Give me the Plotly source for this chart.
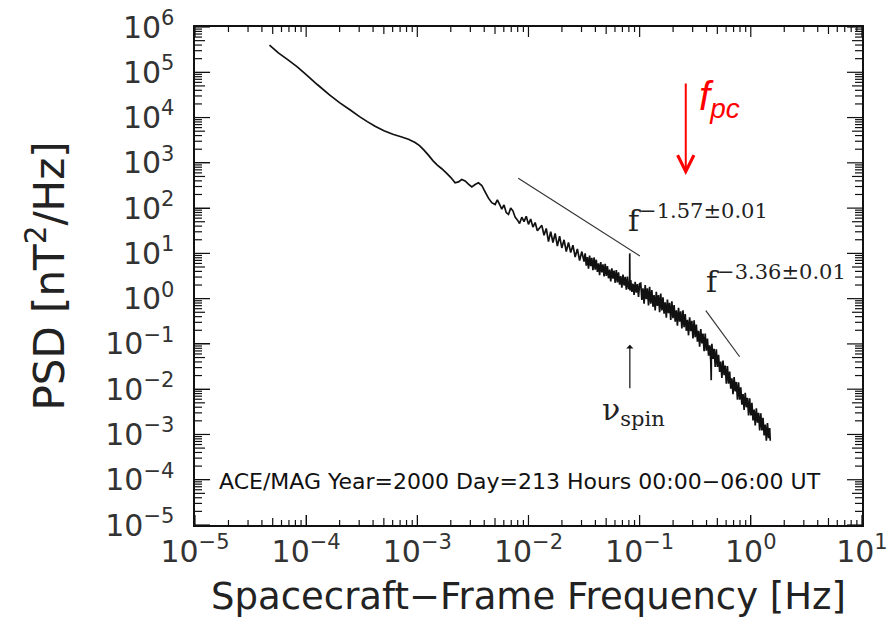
import plotly.graph_objects as go

# ---------------- data (log10 values) ----------------
# low-frequency, smooth part of the spectrum
lf_log_freq = [
    -4.33, -4.25, -4.16, -4.08, -4.00, -3.90, -3.79, -3.70, -3.60, -3.52,
    -3.45, -3.38, -3.30, -3.22, -3.14, -3.08, -3.02, -2.98, -2.94, -2.90,
    -2.86, -2.82, -2.78, -2.74, -2.70, -2.66, -2.63, -2.60, -2.57, -2.54,
    -2.51, -2.48, -2.45, -2.42, -2.39, -2.36, -2.33,
]
lf_log_psd = [
    5.60, 5.43, 5.27, 5.12, 4.95, 4.73, 4.50, 4.33, 4.16, 4.02,
    3.91, 3.81, 3.71, 3.63, 3.57, 3.52, 3.45, 3.38, 3.28, 3.17,
    3.05, 2.95, 2.87, 2.78, 2.68, 2.56, 2.58, 2.63, 2.60, 2.53,
    2.47, 2.52, 2.56, 2.50, 2.36, 2.22, 2.12,
]
# middle part, increasingly noisy (with the spin-tone spike near 0.08 Hz)
mf_log_freq = [
    -2.30, -2.28, -2.26, -2.24, -2.22, -2.20, -2.18, -2.16, -2.14, -2.12,
    -2.10, -2.08, -2.06, -2.04, -2.02, -2.00, -1.98, -1.96, -1.94, -1.92,
    -1.90, -1.88, -1.86, -1.84, -1.82, -1.80, -1.78, -1.76, -1.74, -1.72,
    -1.70, -1.68, -1.66, -1.64, -1.62, -1.60, -1.58, -1.56, -1.54, -1.52,
    -1.50,
    -1.49, -1.48, -1.47, -1.46, -1.45, -1.44, -1.43, -1.42, -1.41, -1.40,
    -1.39, -1.38, -1.37, -1.36, -1.35, -1.34, -1.33, -1.32, -1.31, -1.30,
    -1.29, -1.28, -1.27, -1.26, -1.25, -1.24, -1.23, -1.22, -1.21, -1.20,
    -1.19, -1.18, -1.17, -1.16, -1.15, -1.14, -1.13, -1.12, -1.11, -1.10,
    -1.09, -1.089, -1.087,
    -1.08, -1.07, -1.06, -1.05, -1.04, -1.03, -1.02, -1.01, -1.00,
]
mf_log_psd = [
    2.08, 2.18, 2.08, 1.98, 2.07, 1.90, 1.86, 2.00, 1.94, 1.80,
    1.74, 1.66, 1.80, 1.70, 1.82, 1.64, 1.76, 1.58, 1.68, 1.50,
    1.56, 1.62, 1.40, 1.55, 1.26, 1.48, 1.24, 1.44, 1.16, 1.38,
    1.12, 1.30, 1.04, 1.24, 1.02, 1.18, 0.92, 1.10, 0.84, 1.04,
    0.82,
    1.00, 0.73, 0.92, 0.66, 0.95, 0.72, 0.90, 0.63, 0.91, 0.64,
    0.86, 0.59, 0.78, 0.52, 0.81, 0.58, 0.76, 0.49, 0.77, 0.50,
    0.72, 0.45, 0.64, 0.38, 0.67, 0.44, 0.62, 0.35, 0.63, 0.36,
    0.58, 0.31, 0.50, 0.24, 0.53, 0.29, 0.48, 0.20, 0.49, 0.21,
    0.30, 1.00, 0.18,
    0.41, 0.15, 0.33, 0.08, 0.37, 0.13, 0.32, 0.04, 0.33,
]
# high-frequency part: dense, thick noise band
hf_log_freq = [
    -0.99, -0.98, -0.97, -0.96, -0.95, -0.94, -0.93, -0.92, -0.91, -0.90,
    -0.89, -0.88, -0.87, -0.86, -0.85, -0.84, -0.83, -0.82, -0.81, -0.80,
    -0.79, -0.78, -0.77, -0.76, -0.75, -0.74, -0.73, -0.72, -0.71, -0.70,
    -0.69, -0.68, -0.67, -0.66, -0.65, -0.64, -0.63, -0.62, -0.61, -0.60,
    -0.59, -0.58, -0.57, -0.56, -0.55, -0.54, -0.53, -0.52, -0.51, -0.50,
    -0.49, -0.48, -0.47, -0.46, -0.45, -0.44, -0.43, -0.42, -0.41, -0.40,
    -0.39, -0.38, -0.37, -0.36, -0.356, -0.354,
    -0.35, -0.34, -0.33, -0.32, -0.31, -0.30,
    -0.29, -0.28, -0.27, -0.26, -0.25, -0.24, -0.23, -0.22, -0.21, -0.20,
    -0.19, -0.18, -0.17, -0.16, -0.15, -0.14, -0.13, -0.12, -0.11, -0.10,
    -0.09, -0.08, -0.07, -0.06, -0.05, -0.04, -0.03, -0.02, -0.01, 0.00,
    0.01, 0.02, 0.03, 0.04, 0.05, 0.06, 0.07, 0.08, 0.09, 0.10,
    0.11, 0.12, 0.13, 0.14, 0.15, 0.16, 0.17, 0.175,
]
hf_log_psd = [
    0.34, -0.03, 0.23, -0.11, 0.30, -0.01, 0.23, -0.15, 0.26, -0.11,
    0.19, -0.18, 0.08, -0.26, 0.15, -0.16, 0.08, -0.30, 0.11, -0.26,
    0.03, -0.33, -0.08, -0.42, -0.02, -0.32, -0.09, -0.47, -0.06, -0.43,
    -0.14, -0.51, -0.26, -0.60, -0.20, -0.51, -0.28, -0.66, -0.26, -0.63,
    -0.34, -0.71, -0.47, -0.81, -0.41, -0.72, -0.49, -0.88, -0.48, -0.85,
    -0.57, -0.95, -0.71, -1.06, -0.67, -0.99, -0.77, -1.16, -0.77, -1.15,
    -0.88, -1.26, -1.03, -1.38, -1.80, -1.10,
    -1.00, -1.33, -1.11, -1.51, -1.12, -1.51,
    -1.24, -1.62, -1.39, -1.75, -1.37, -1.69, -1.48, -1.88, -1.49, -1.88,
    -1.61, -1.99, -1.76, -2.11, -1.73, -2.05, -1.84, -2.23, -1.85, -2.23,
    -1.96, -2.34, -2.11, -2.46, -2.08, -2.40, -2.19, -2.58, -2.20, -2.58,
    -2.30, -2.69, -2.45, -2.80, -2.42, -2.74, -2.52, -2.91, -2.53, -2.91,
    -2.63, -3.02, -2.78, -3.14, -2.75, -3.08, -2.86, -3.14,
]

# power-law fit segments (Hz, nT^2/Hz)
fit_inertial_freq = [0.0081, 0.1005]
fit_inertial_psd = [457.0, 8.8]
fit_dissip_freq = [0.394, 0.794]
fit_dissip_psd = [0.546, 0.052]

# axis decades
x_decades = [-5, -4, -3, -2, -1, 0, 1]
y_decades = [-5, -4, -3, -2, -1, 0, 1, 2, 3, 4, 5, 6]
minor_digits = [2, 3, 4, 5, 6, 7, 8, 9]

MINUS = "\u2212"

freq = [10.0 ** v for v in lf_log_freq + mf_log_freq + hf_log_freq]
psd = [10.0 ** v for v in lf_log_psd + mf_log_psd + hf_log_psd]
assert len(lf_log_freq) == len(lf_log_psd)
assert len(mf_log_freq) == len(mf_log_psd)
assert len(hf_log_freq) == len(hf_log_psd)

fig = go.Figure()
fig.add_trace(go.Scatter(
    x=freq, y=psd, mode="lines",
    line=dict(color="#111111", width=1.7, simplify=False),
    showlegend=False, hoverinfo="skip",
))
fig.add_trace(go.Scatter(
    x=fit_inertial_freq, y=fit_inertial_psd, mode="lines",
    line=dict(color="#333333", width=1.2), showlegend=False,
))
fig.add_trace(go.Scatter(
    x=fit_dissip_freq, y=fit_dissip_psd, mode="lines",
    line=dict(color="#333333", width=1.2), showlegend=False,
))

# ---------- frame tick marks (inside, on all four sides) ----------
TICK = dict(color="#111111", width=1.2)


def y_tick(value, length):
    out = []
    for anchor, sign in ((0, 1), (1, -1)):
        out.append(dict(type="line", xref="paper", xsizemode="pixel", xanchor=anchor,
                        x0=0, x1=sign * length, yref="y", y0=value, y1=value,
                        line=TICK, layer="above"))
    return out


def x_tick(value, length):
    out = []
    for anchor, sign in ((0, 1), (1, -1)):
        out.append(dict(type="line", yref="paper", ysizemode="pixel", yanchor=anchor,
                        y0=0, y1=sign * length, xref="x", x0=value, x1=value,
                        line=TICK, layer="above"))
    return out


shapes = []
for e in y_decades:
    shapes += y_tick(10.0 ** e, 15)
    if e < 6:
        for m in minor_digits:
            shapes += y_tick(m * 10.0 ** e, 10 if m == 5 else 7)
for e in x_decades:
    shapes += x_tick(10.0 ** e, 10)
    if e < 1:
        for m in minor_digits:
            shapes += x_tick(m * 10.0 ** e, 7 if m == 5 else 5)

serif = "DejaVu Serif"
sans = "DejaVu Sans"

annotations = [
    dict(x=-1.12, y=1.78, xref="x", yref="y", xanchor="left", yanchor="middle",
         text="f<sup>" + MINUS + "1.57\u00b10.01</sup>", showarrow=False,
         font=dict(family=serif, size=30, color="#222222")),
    dict(x=-0.42, y=0.42, xref="x", yref="y", xanchor="left", yanchor="middle",
         text="f<sup>" + MINUS + "3.36\u00b10.01</sup>", showarrow=False,
         font=dict(family=serif, size=30, color="#222222")),
    dict(x=-1.36, y=-2.50, xref="x", yref="y", xanchor="left", yanchor="middle",
         text="\u03bd<sub>spin</sub>", showarrow=False,
         font=dict(family=serif, size=30, color="#222222")),
    dict(x=-1.088, y=-1.02, xref="x", yref="y", ax=0, ay=45,
         text="", showarrow=True, arrowhead=1, arrowsize=1.0, arrowwidth=1.2,
         arrowcolor="#111111"),
    dict(x=-4.80, y=-4.04, xref="x", yref="y", xanchor="left", yanchor="middle",
         text="ACE/MAG Year=2000 Day=213 Hours 00:00" + MINUS + "06:00 UT",
         showarrow=False, font=dict(family=sans, size=22, color="#111111")),
    dict(x=-0.585, y=2.73, xref="x", yref="y", ax=0, ay=-93,
         text="", showarrow=True, arrowhead=5, arrowsize=1.6, arrowwidth=2,
         arrowcolor="#ff0000"),
    dict(x=-0.48, y=4.40, xref="x", yref="y", xanchor="left", yanchor="middle",
         text="<i>f<sub>pc</sub></i>", showarrow=False,
         font=dict(family="Liberation Sans", size=40, color="#ff0000")),
]

alias = {"1": "10<sup>0</sup>", "10": "10<sup>1</sup>"}

axis_common = dict(
    type="log", showgrid=False, zeroline=False, automargin=False,
    showline=True, linecolor="#111111", linewidth=1.5, mirror=True,
    ticks="inside", tickcolor="#111111", tickwidth=1.2,
    tickmode="linear", tick0=0, dtick=1, exponentformat="power",
    labelalias=alias,
    tickfont=dict(family=sans, size=24, color="#333333"),
)

fig.update_layout(
    width=892, height=618,
    margin=dict(l=195, r=30, t=27, b=93),
    paper_bgcolor="white", plot_bgcolor="white",
    annotations=annotations,
    shapes=shapes,
    xaxis=dict(
        **axis_common, range=[-5, 1.0005], ticklen=10,
        title=dict(text="Spacecraft" + MINUS + "Frame Frequency [Hz]",
                   font=dict(family=sans, size=37, color="#222222"), standoff=22),
    ),
    yaxis=dict(
        **axis_common, range=[-5, 6.0005], ticklen=15, ticklabelstandoff=14,
        title=dict(text="PSD [nT<sup>2</sup>/Hz]",
                   font=dict(family=sans, size=42, color="#222222"), standoff=28),
    ),
)

fig.write_html("out.html")
